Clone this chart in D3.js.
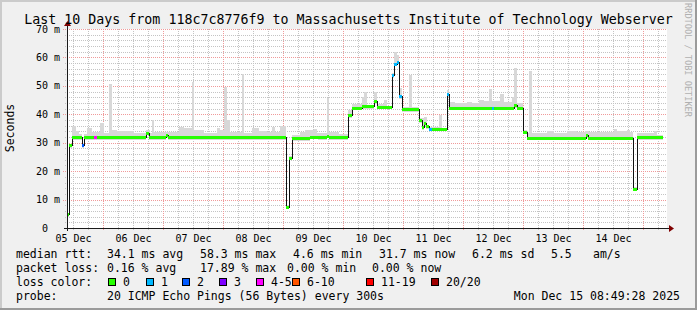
<!DOCTYPE html>
<html>
<head>
<meta charset="utf-8">
<script src="https://cdn.jsdelivr.net/npm/d3@7"></script>
<style>
  body { margin: 0; background: #f0f0f0; }
  svg { display: block; }
  text { font-family: "DejaVu Sans Mono", monospace; fill: #000; }
</style>
</head>
<body>
<svg id="chart" width="697" height="310"></svg>
<script>
const title = "Last 10 Days from 118c7c8776f9 to Massachusetts Institute of Technology Webserver"
const startTime = Date.UTC(2025, 11, 5, 9, 36)
const hoursShown = 240
const yTicks = [0, 10, 20, 30, 40, 50, 60, 70]

// median rtt (ms), each step starts at an hour offset from startTime
const medianHours = [0, 0.8, 2.0, 6.0, 6.8, 10.8, 12.0, 31.6, 32.8, 39.6, 40.4, 87.6, 88.8, 90.0, 97.2, 100.4,
  104.0, 104.8, 112.4, 114.0, 118.0, 122.8, 124.0, 130.0, 130.8, 132.0, 132.8, 134.0, 140.8, 142.0, 142.8,
  143.6, 144.8, 146.0, 152.0, 152.8, 170.0, 170.8, 178.8, 180.0, 182.4, 184.0, 207.6, 208.4, 226.4, 228.0]
const medianValues = [4.6, 29.0, 31.7, 29.0, 31.7, 31.7, 31.7, 33.3, 31.7, 32.5, 31.7, 7.3, 24.6, 31.4, 32.0, 31.7,
  32.3, 31.7, 39.5, 42.1, 42.7, 44.4, 42.4, 53.5, 57.6, 58.3, 46.2, 41.6, 37.7, 35.3, 36.6,
  35.6, 34.8, 34.8, 46.8, 42.1, 42.1, 42.1, 43.0, 42.1, 33.7, 31.5, 32.4, 31.5, 13.6, 31.7]
const medianLoss = [0, 0, 0, 2, 0, 4, 0, 0, 0, 0, 0, 0, 0, 0, 0, 0,
  0, 0, 0, 0, 0, 0, 0, 1, 1, 1, 1, 0, 0, 0, 0,
  0, 1, 0, 1, 0, 1, 0, 0, 0, 0, 0, 0, 0, 0, 0]
const lastHour = 238.4

// smoke: slowest ping of each step (ms)
const smokeHours = [0, 0.8, 2.0, 3.6, 4.8, 6.0, 6.8, 8.0, 10.0, 13.2, 14.8, 16.8, 18.0, 20.0, 26.8, 31.6, 33.2,
  34.0, 34.8, 44.8, 46.8, 50.0, 50.8, 54.8, 60.0, 61.2, 62.8, 64.0, 65.2, 70.0, 70.8, 74.0, 76.8, 80.0,
  82.0, 83.2, 85.2, 87.6, 88.8, 90.0, 93.2, 95.2, 98.8, 100.0, 104.0, 104.8, 108.8, 112.4, 114.0, 118.0,
  118.8, 120.0, 122.8, 124.0, 126.8, 128.0, 130.0, 130.8, 132.0, 132.8, 134.0, 136.8, 138.0, 140.8, 142.8,
  144.0, 148.8, 150.0, 152.0, 152.8, 155.2, 160.0, 162.0, 164.8, 166.8, 168.8, 170.0, 173.2, 174.8, 178.0,
  178.8, 180.0, 182.4, 184.0, 184.8, 186.0, 192.0, 194.8, 200.0, 204.0, 207.2, 208.8, 218.8, 220.0, 224.0,
  225.2, 226.4, 228.0, 234.8, 236.0]
const smokeMax = [5, 29.5, 36, 34, 32.9, 30, 32.9, 35.1, 33.9, 36.9, 33.4, 50.6, 34.3, 34, 33.4, 34.5, 33.4,
  38, 33.9, 35.6, 35.1, 51.5, 34.3, 33.4, 35.1, 34.3, 49.7, 38, 33.9, 54.2, 33.4, 35.1, 34, 33.9,
  35.4, 33.9, 36, 8, 25.5, 32.7, 33.9, 34.4, 35, 33.4, 45.6, 33.9, 33, 41.5, 43.6, 46.2,
  48, 43.1, 48, 43.7, 45, 43, 54.4, 62, 60.9, 49.1, 42.7, 53.8, 42.7, 38.6, 39.2,
  35.6, 39.7, 35, 48.5, 44.4, 43.8, 44.2, 43.8, 45, 44.6, 48.9, 44.6, 47.1, 44.4, 46.2,
  56.2, 43.8, 34.5, 33.3, 55.3, 33.3, 34, 33.3, 34, 33.6, 34.2, 33.6, 34.8, 34, 34.4,
  33.6, 14.3, 33.3, 34.1, 32.8]

const lossLabels = ["0", "1", "2", "3", "4-5", "6-10", "11-19", "20/20"]
const lossColors = ["#26ff00", "#00b8ff", "#0059ff", "#7e00ff", "#ff00ff", "#ff5500", "#ff0000", "#a00000"]

const rttStats = ["34.1 ms avg", "58.3 ms max", "4.6 ms min", "31.7 ms now", "6.2 ms sd", "5.5", "am/s"]
const lossStats = ["0.16 % avg", "17.89 % max", "0.00 % min", "0.00 % now"]
const probeText = "20 ICMP Echo Pings (56 Bytes) every 300s"
const stampText = "Mon Dec 15 08:49:28 2025"

const W = 697, H = 310
const svg = d3.select("#chart")
const hour = 3600e3
const at = h => new Date(startTime + h * hour)

const x = d3.scaleUtc().domain([at(0), at(hoursShown)]).range([67, 667])
const y = d3.scaleLinear().domain([0, 70]).range([228, 29])

// frame
svg.append("rect").attr("width", W).attr("height", H).attr("fill", "#f0f0f0")
svg.append("rect").attr("x", 0).attr("y", 0).attr("width", W).attr("height", 2).attr("fill", "#cbcbcb")
svg.append("rect").attr("x", 0).attr("y", 0).attr("width", 2).attr("height", H).attr("fill", "#cbcbcb")
svg.append("rect").attr("x", W - 2).attr("y", 0).attr("width", 2).attr("height", H).attr("fill", "#9b9b9b")
svg.append("rect").attr("x", 0).attr("y", H - 2).attr("width", W).attr("height", 2).attr("fill", "#9b9b9b")

svg.append("rect")
  .attr("x", 67).attr("y", 29)
  .attr("width", 600).attr("height", 199)
  .attr("fill", "#fff")

// grid
const grid = svg.append("g").attr("shape-rendering", "crispEdges")
const minorX = d3.utcHour.every(6).range(at(0), at(hoursShown)).filter(d => d.getUTCHours() !== 0)
const majorX = d3.utcDay.range(at(0), at(hoursShown))
const minorY = d3.range(2, 71, 2).filter(v => v % 10 !== 0)

grid.selectAll(".vminor").data(minorX).join("line")
  .attr("x1", d => Math.round(x(d)) + 0.5).attr("x2", d => Math.round(x(d)) + 0.5)
  .attr("y1", 29).attr("y2", 230)
  .attr("stroke", "#c4c4c4").attr("stroke-dasharray", "1,1")
grid.selectAll(".hminor").data(minorY).join("line")
  .attr("x1", 65).attr("x2", 667)
  .attr("y1", d => Math.round(y(d)) + 0.5).attr("y2", d => Math.round(y(d)) + 0.5)
  .attr("stroke", "#c4c4c4").attr("stroke-dasharray", "1,1")
grid.selectAll(".vmajor").data(majorX).join("line")
  .attr("x1", d => Math.round(x(d)) + 0.5).attr("x2", d => Math.round(x(d)) + 0.5)
  .attr("y1", 29).attr("y2", 231)
  .attr("stroke", "#f09a9a").attr("stroke-dasharray", "1,1")
grid.selectAll(".hmajor").data(yTicks.filter(v => v > 0)).join("line")
  .attr("x1", 63).attr("x2", 667)
  .attr("y1", d => Math.round(y(d)) + 0.5).attr("y2", d => Math.round(y(d)) + 0.5)
  .attr("stroke", "#f09a9a").attr("stroke-dasharray", "1,1")

// smoke
const stepAt = (hours, values, h) => values[Math.max(0, d3.bisectRight(hours, h) - 1)]
const smokePts = Array.from(new Set([...smokeHours, ...medianHours, lastHour])).sort((a, b) => a - b)
  .map(h => ({ h, med: stepAt(medianHours, medianValues, h), max: stepAt(smokeHours, smokeMax, h) }))

svg.append("path")
  .datum(smokePts)
  .attr("fill", "#d8d8d8")
  .attr("shape-rendering", "crispEdges")
  .attr("d", d3.area()
    .curve(d3.curveStepAfter)
    .x(d => x(at(d.h)))
    .y0(d => y(d.med - 0.7))
    .y1(d => y(Math.max(d.max, d.med))))

// median
const medPts = medianHours.map((h, i) => ({ h, v: medianValues[i], loss: medianLoss[i],
  end: i < medianHours.length - 1 ? medianHours[i + 1] : lastHour }))

svg.append("path")
  .datum([...medPts, { h: lastHour, v: medianValues[medianValues.length - 1] }])
  .attr("fill", "none")
  .attr("stroke", "#111")
  .attr("stroke-width", 1)
  .attr("shape-rendering", "crispEdges")
  .attr("d", d3.line().curve(d3.curveStepAfter).x(d => x(at(d.h))).y(d => y(d.v)))

svg.append("g").attr("shape-rendering", "crispEdges")
  .selectAll("rect").data(medPts).join("rect")
  .attr("x", d => x(at(d.h)))
  .attr("width", d => x(at(d.end)) - x(at(d.h)))
  .attr("y", d => y(d.v) - 1.5)
  .attr("height", 3)
  .attr("fill", d => lossColors[d.loss])

// axes
const axis = svg.append("g").attr("shape-rendering", "crispEdges")
axis.append("line").attr("x1", 64).attr("x2", 669).attr("y1", 228.5).attr("y2", 228.5).attr("stroke", "#1a1a1a")
axis.append("line").attr("x1", 67.5).attr("x2", 67.5).attr("y1", 231).attr("y2", 25).attr("stroke", "#1a1a1a")
svg.append("path").attr("d", "M669,225 L674,228.5 L669,232 Z").attr("fill", "#7f0000")
svg.append("path").attr("d", "M64,26 L67.5,21 L71,26 Z").attr("fill", "#7f0000")

svg.selectAll(".ylab").data(yTicks).join("text")
  .attr("x", d => d === 0 ? 48 : 60)
  .attr("y", d => y(d) + 3.5)
  .attr("text-anchor", "end")
  .style("font-size", "10px")
  .text(d => d === 0 ? "0" : `${d} m`)

const dayLabels = d3.utcDay.range(d3.utcDay.floor(at(0)), at(hoursShown))
  .map(d => d3.utcHour.offset(d, 12))
  .filter(d => d >= at(0) && d <= at(hoursShown))

svg.selectAll(".xlab").data(dayLabels).join("text")
  .attr("x", d => x(d) + 0.5)
  .attr("y", 242)
  .attr("text-anchor", "middle")
  .style("font-size", "10px")
  .text(d => d3.utcFormat("%d %b")(d))

svg.append("text")
  .attr("x", W / 2).attr("y", 24)
  .attr("text-anchor", "middle")
  .style("font-size", "13.3px")
  .text(title)

svg.append("text")
  .attr("transform", "translate(14,128) rotate(-90)")
  .attr("text-anchor", "middle")
  .style("font-size", "11.5px")
  .text("Seconds")

svg.append("text")
  .attr("transform", "translate(684.5,60) rotate(90)")
  .attr("text-anchor", "middle")
  .style("font-size", "8.6px")
  .style("fill", "#b0b0b0")
  .text("RRDTOOL / TOBI OETIKER")

// legend
const legend = svg.append("g").style("font-size", "11.5px")
const rttX = [107, 200, 293, 379, 472, 551, 593]
const lossX = [107, 200, 287, 372]
const boxX = [108, 146, 182, 219, 256, 292, 366, 431]

legend.append("text").attr("x", 16).attr("y", 258).text("median rtt:")
legend.selectAll(".rtt").data(rttStats).join("text")
  .attr("x", (d, i) => rttX[i]).attr("y", 258).text(d => d)

legend.append("text").attr("x", 16).attr("y", 272).text("packet loss:")
legend.selectAll(".loss").data(lossStats).join("text")
  .attr("x", (d, i) => lossX[i]).attr("y", 272).text(d => d)

legend.append("text").attr("x", 16).attr("y", 286).text("loss color:")
const keys = legend.selectAll(".key").data(lossLabels).join("g")
  .attr("transform", (d, i) => `translate(${boxX[i]},0)`)
keys.append("rect")
  .attr("x", 0.5).attr("y", 278.5).attr("width", 7).attr("height", 7)
  .attr("fill", (d, i) => lossColors[i]).attr("stroke", "#000")
  .attr("shape-rendering", "crispEdges")
keys.append("text").attr("x", 15).attr("y", 286).text(d => d)

legend.append("text").attr("x", 16).attr("y", 300).text("probe:")
legend.append("text").attr("x", 107).attr("y", 300).text(probeText)
legend.append("text").attr("x", 680).attr("y", 300).attr("text-anchor", "end").text(stampText)
</script>
</body>
</html>
